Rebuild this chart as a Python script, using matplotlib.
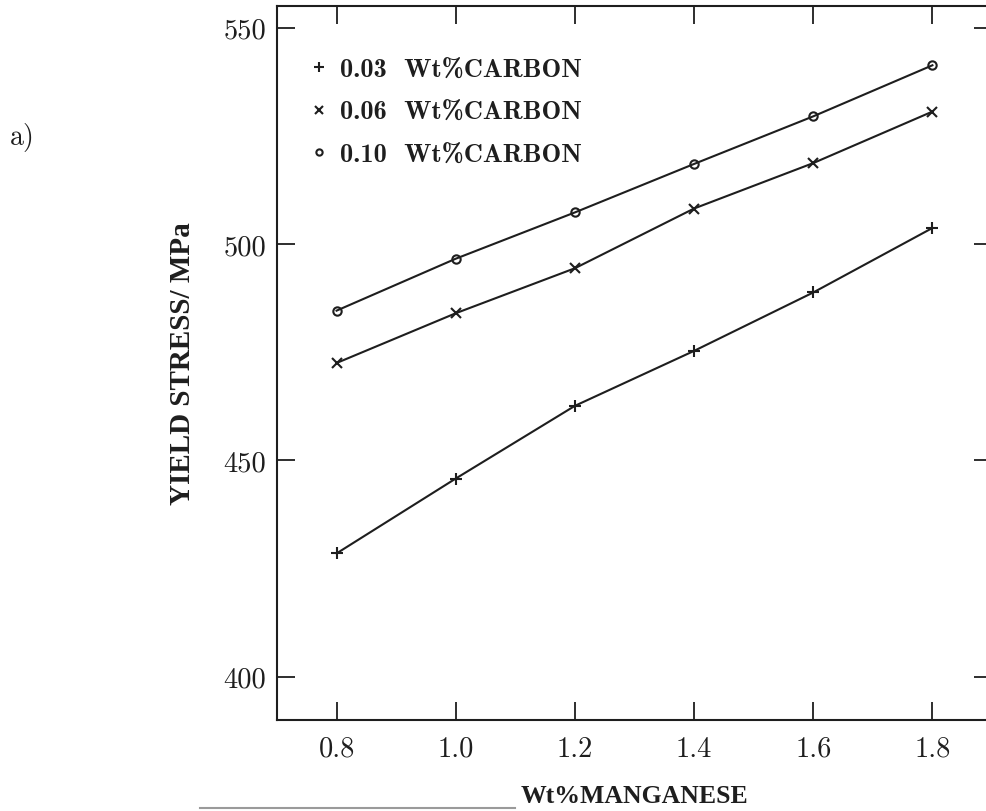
import matplotlib
matplotlib.use('Agg')
import matplotlib.pyplot as plt
from matplotlib.lines import Line2D

# ----- Donnees -----
manganese = [0.8, 1.0, 1.2, 1.4, 1.6, 1.8]
ys_c003 = [428.5, 445.8, 462.6, 475.3, 488.8, 503.7]
ys_c006 = [472.5, 484.0, 494.4, 508.2, 518.7, 530.6]
ys_c010 = [484.6, 496.6, 507.3, 518.5, 529.5, 541.3]
labels = ['0.03  Wt%CARBON', '0.06  Wt%CARBON', '0.10  Wt%CARBON']
markers = ['+', 'x', 'o']

x_ticks = [0.8, 1.0, 1.2, 1.4, 1.6, 1.8]
y_ticks = [400, 450, 500, 550]

ink = '#1e1e1e'
plt.rcParams['font.family'] = 'cmr10'
plt.rcParams['axes.unicode_minus'] = False

fig = plt.figure(figsize=(9.86, 8.12), dpi=100)
# axe volontairement un peu plus large que l'image (bord droit coupe)
ax = fig.add_axes([277 / 986, 1 - 721 / 812, 715 / 986, 714 / 812])

series = [ys_c003, ys_c006, ys_c010]
sizes = [9, 7, 6]
for ys, m, lab, ms in zip(series, markers, labels, sizes):
    ax.plot(manganese, ys, color=ink, lw=1.5, marker=m, ms=ms,
            mew=1.5, mfc='none', mec=ink, label=lab)

ax.set_xlim(0.7, 1.9)
ax.set_ylim(390, 555)
ax.set_xticks(x_ticks)
ax.set_xticklabels([f'{v:.1f}' for v in x_ticks])
ax.set_yticks(y_ticks)
ax.set_yticklabels([str(v) for v in y_ticks])
ax.tick_params(direction='in', length=13, width=1.3, colors=ink,
               top=True, right=True, labelsize=20.5)
ax.tick_params(axis='x', pad=11)
ax.tick_params(axis='y', pad=8)
for s in ax.spines.values():
    s.set_linewidth(1.5)
    s.set_color(ink)

lab_font = dict(family='Liberation Serif', weight='bold', color=ink)
ax.set_xlabel('Wt%MANGANESE', fontsize=18.5, **lab_font)
ax.xaxis.label.set_va('center')
ax.xaxis.set_label_coords(0.5, (721 - 797) / 714)
ax.set_ylabel('YIELD STRESS/ MPa', fontsize=21, **lab_font)
ax.yaxis.label.set_va('center')
ax.yaxis.set_label_coords((183 - 277) / 715, (721 - 364) / 714)

leg = ax.legend(loc='upper left', bbox_to_anchor=(34 / 715, 1 - 52 / 714),
                frameon=False, prop={'family': 'cmb10', 'size': 19},
                handlelength=0.6, handletextpad=0.5, labelspacing=0.72,
                borderpad=0, borderaxespad=0, markerscale=0.75)
for h in leg.legend_handles:
    h.set_linestyle('none')
    h.set_linewidth(1.0)
for t in leg.get_texts():
    t.set_color(ink)

fig.text(22 / 986, 1 - 137 / 812, 'a)', fontsize=20, color=ink,
         ha='center', va='center')

# trait gris du bas de la page scannee
fig.add_artist(Line2D([200 / 986, 515 / 986], [1 - 809 / 812, 1 - 809 / 812],
                      transform=fig.transFigure, color='#9a9a9a', lw=1.5))

fig.savefig('out.png', dpi=100, facecolor='white')
